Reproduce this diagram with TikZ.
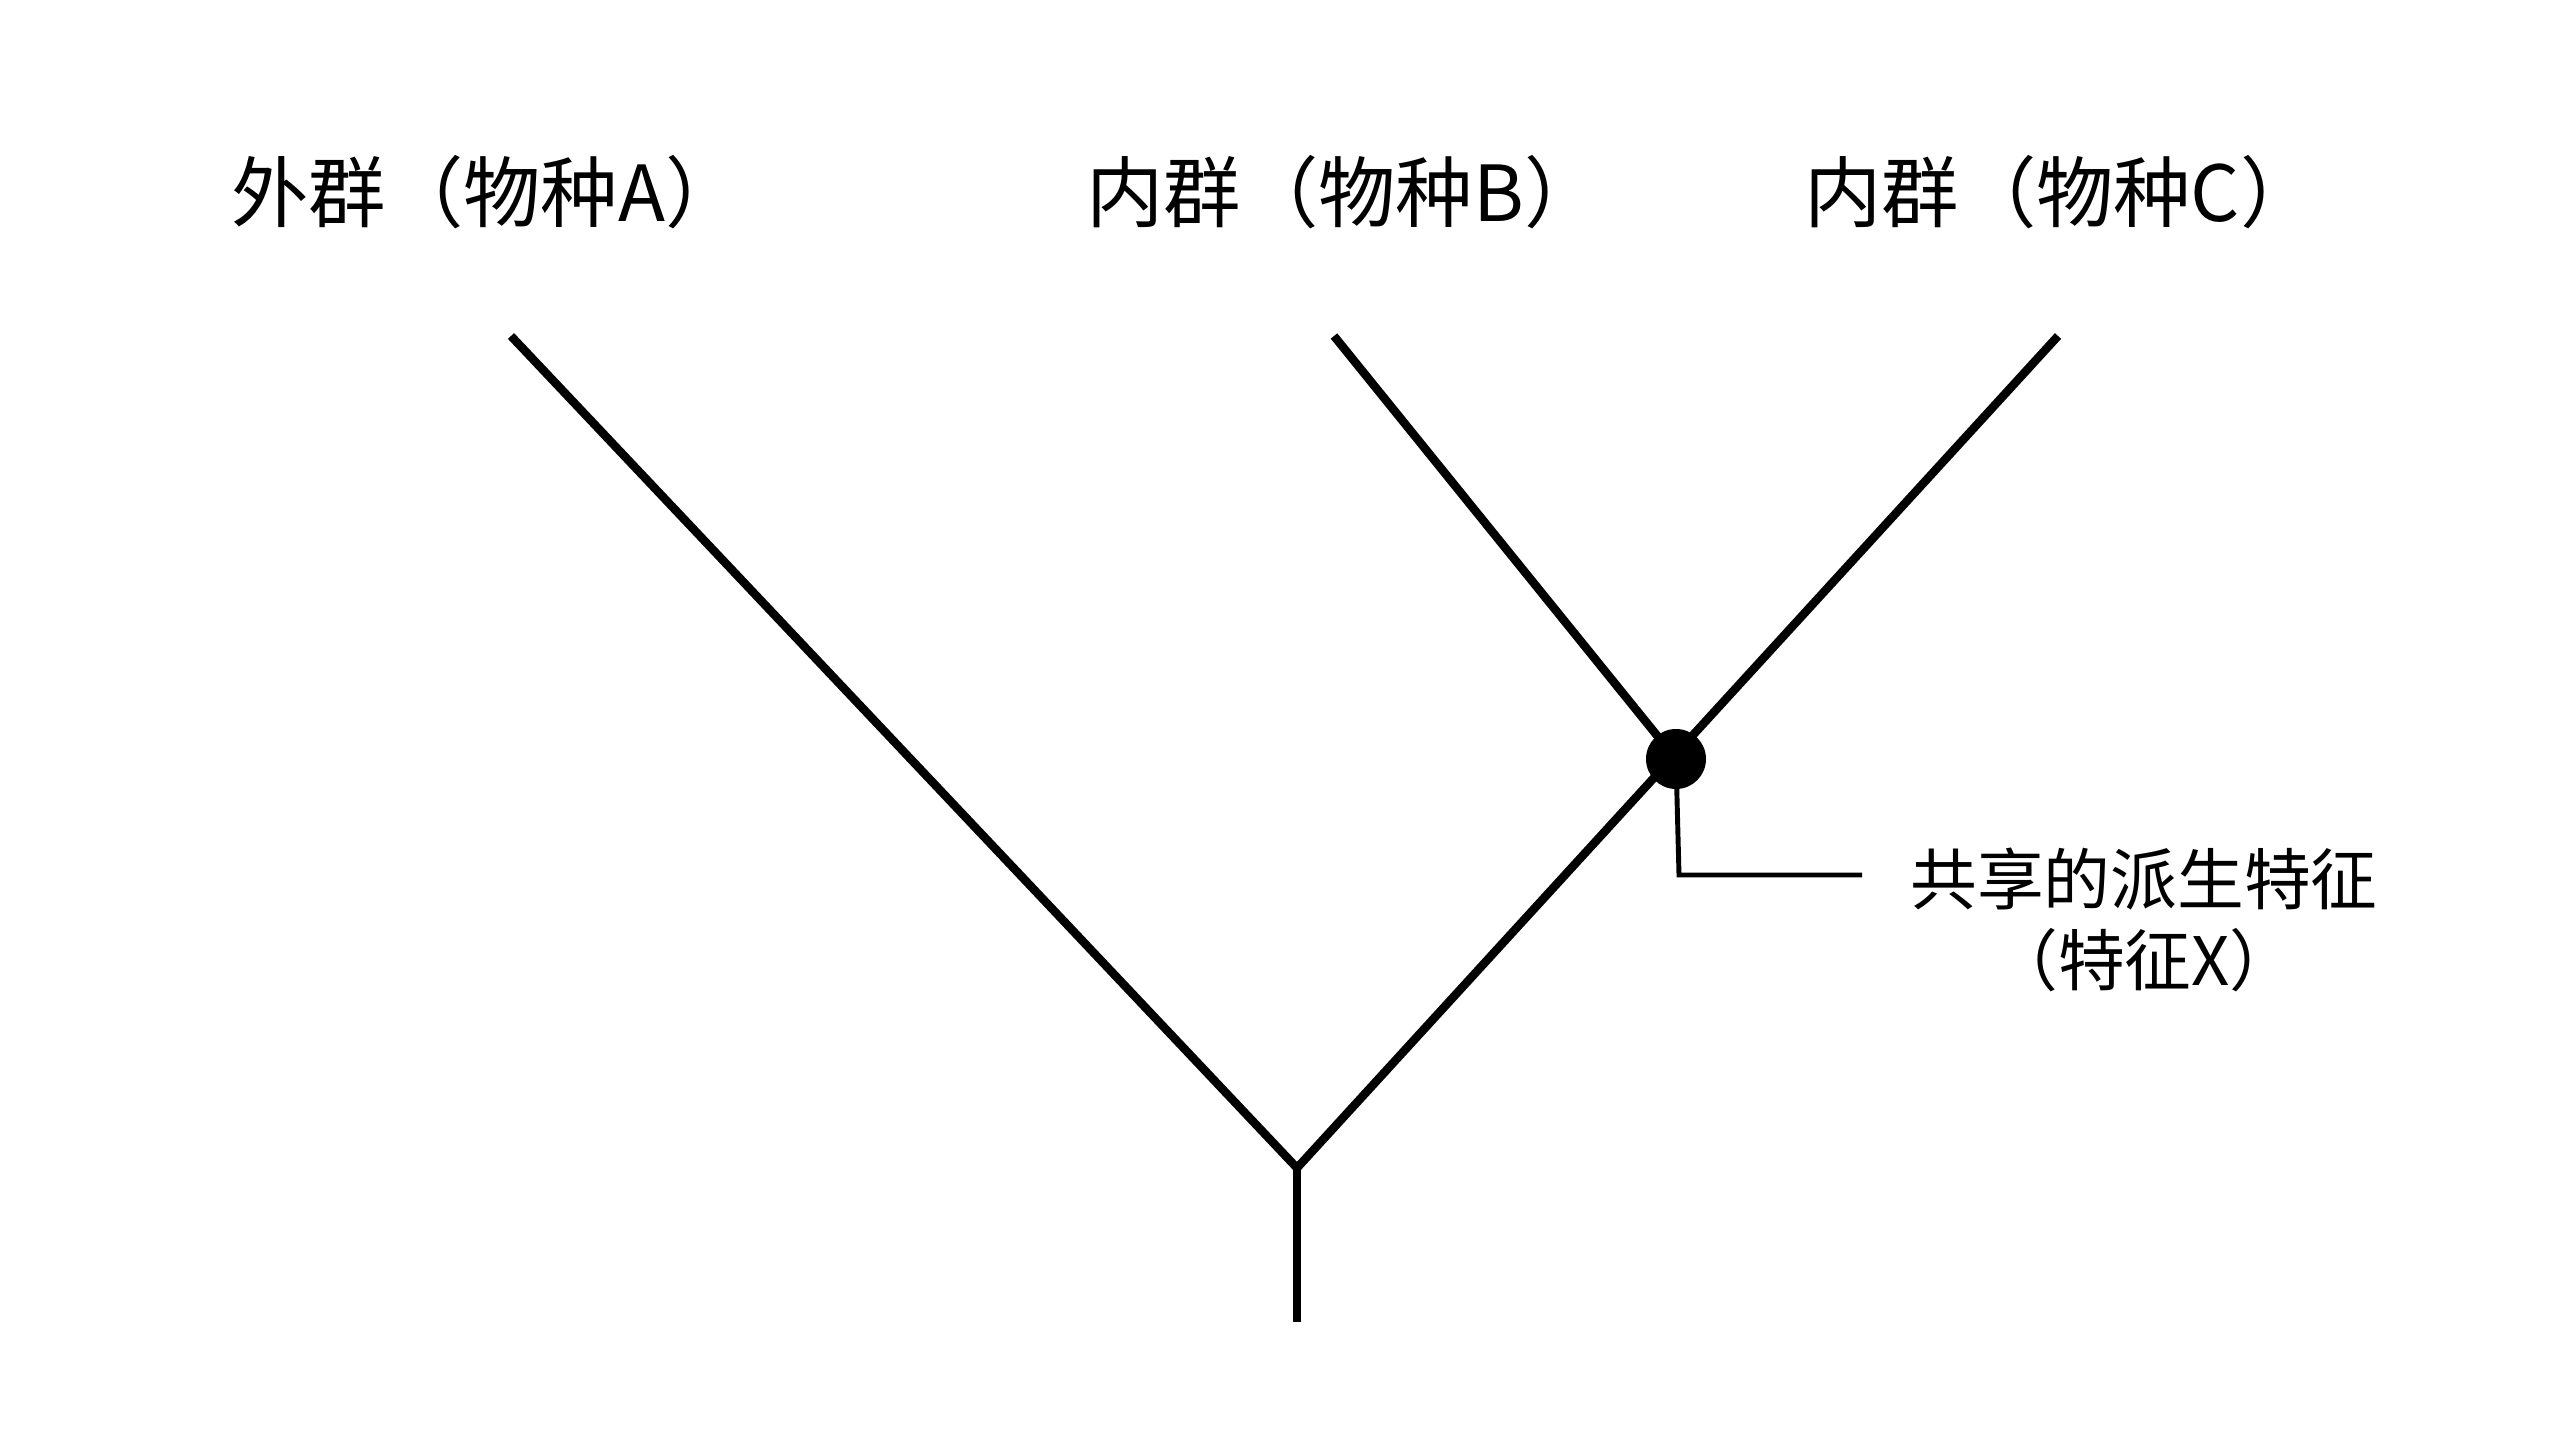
\documentclass[tikz,border=0pt]{standalone}
\usepackage{fontspec}
\setmainfont{Noto Sans CJK SC}
\begin{document}
\begin{tikzpicture}
    \useasboundingbox (0,0) rectangle (25.6,14.4);
    \tikzset{branch/.style={line width=2.4pt}, taxon/.style={font=\fontsize{22}{26}\selectfont}}

    % Taxon labels
    \node[taxon] (labA) at (4.87,12.48) {外群（物种A）};
    \node[taxon] (labB) at (13.44,12.48) {内群（物种B）};
    \node[taxon] (labC) at (20.61,12.48) {内群（物种C）};

    % Tree points
    \coordinate (root) at (12.97,1.18);
    \coordinate (junc) at (12.97,2.72);
    \coordinate (tipA) at (5.11,11.04);
    \coordinate (tipB) at (13.34,11.04);
    \coordinate (tipC) at (20.58,11.04);
    \coordinate (node) at (16.76,6.81);

    % Branches
    \draw[branch] (root) -- (junc);
    \draw[branch, line join=miter] (tipA) -- (junc) -- (tipC);
    \draw[branch] (tipB) -- (node);
    \fill (node) circle (0.3);

    % Callout for the shared trait
    \coordinate (bend) at (16.79,5.65);
    \coordinate (tail) at (18.62,5.65);
    \draw[line width=1.4pt] (node) -- (bend) -- (tail);
    \node[font=\fontsize{19}{23}\selectfont, align=center] (trait) at (21.44,5.2)
        {共享的派生特征\\（特征X）};
\end{tikzpicture}
\end{document}
